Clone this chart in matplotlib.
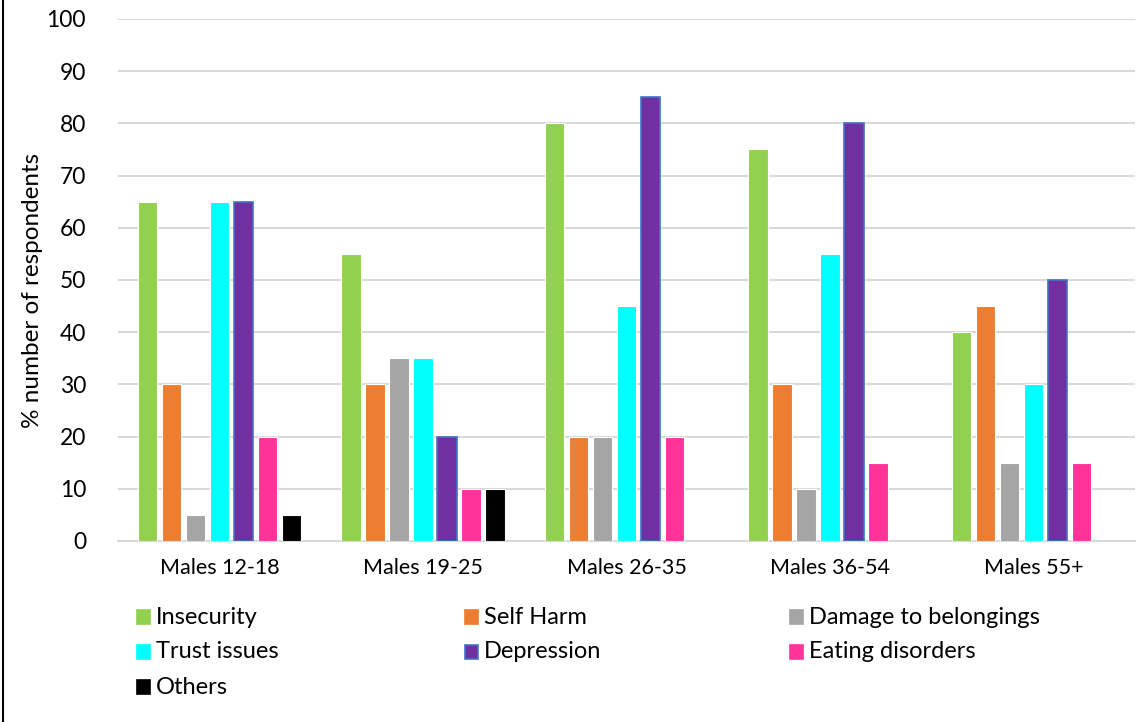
import matplotlib
matplotlib.use("Agg")
import matplotlib.pyplot as plt
import numpy as np
from matplotlib.patches import Rectangle
from matplotlib.lines import Line2D

plt.rcParams['font.family'] = ['Lato', 'DejaVu Sans']

groups = ['Males 12-18', 'Males 19-25', 'Males 26-35', 'Males 36-54', 'Males 55+']
insecurity = [65, 55, 80, 75, 40]
self_harm = [30, 30, 20, 30, 45]
damage = [5, 35, 20, 10, 15]
trust = [65, 35, 45, 55, 30]
depression = [65, 20, 85, 80, 50]
eating = [20, 10, 20, 15, 15]
others = [5, 10, 0, 0, 0]

series_names = ['Insecurity', 'Self Harm', 'Damage to belongings', 'Trust issues',
                'Depression', 'Eating disorders', 'Others']
series_values = [insecurity, self_harm, damage, trust, depression, eating, others]
colors = ['#92D050', '#ED7D31', '#A5A5A5', '#00FFFF', '#7030A0', '#FF3399', '#000000']
edges = ['white', 'white', 'white', 'white', '#4472C4', 'white', 'white']

fig = plt.figure(figsize=(11.39, 7.22), dpi=100)
ax = fig.add_axes([0.1036, 0.2507, 0.8930, 0.7230])

x = np.arange(len(groups))
pitch = 0.118
width = 0.096
for i, (vals, c, ec) in enumerate(zip(series_values, colors, edges)):
    offs = (i - 3) * pitch
    lw = 1.2 if ec != 'white' else 0.8
    ax.bar(x + offs, vals, width, color=c, edgecolor=ec, linewidth=lw, zorder=3)

ax.set_xlim(-0.5, 4.5)
ax.set_ylim(0, 100)
ax.set_yticks(range(0, 101, 10))
ax.yaxis.grid(True, color='#D9D9D9', linewidth=1.5, zorder=0)
ax.set_axisbelow(True)
ax.set_xticks(x)
ax.set_xticklabels(groups, fontsize=15.5)
ax.tick_params(axis='y', labelsize=16.5, length=0, pad=23)
ax.tick_params(axis='x', length=0, pad=12)
for s in ['top', 'right', 'left']:
    ax.spines[s].set_visible(False)
ax.spines['bottom'].set_color('#D9D9D9')
ax.spines['bottom'].set_linewidth(1.5)
ax.set_ylabel('% number of respondents', fontsize=17.5)
ax.yaxis.set_label_coords(-0.074, 0.48)

# legend drawn by hand so the three columns sit on a fixed grid
col_x = [137, 465, 790]
row_y = [617, 652, 687]
W, H = 1139.0, 722.0
for k, (name, c, ec) in enumerate(zip(series_names, colors, edges)):
    cx = col_x[k % 3]
    cy = row_y[k // 3]
    fig.patches.append(Rectangle((cx / W, 1 - (cy + 7) / H), 13 / W, 14 / H,
                                 facecolor=c, edgecolor=ec if ec != 'white' else c,
                                 linewidth=1.2, transform=fig.transFigure, figure=fig))
    fig.text((cx + 19) / W, 1 - cy / H, name, fontsize=17, va='center', ha='left')

# chart frame on the left edge
fig.add_artist(Line2D([3 / W, 3 / W], [0, 1], color='black', linewidth=1.5,
                      transform=fig.transFigure))

fig.savefig('out.png', dpi=100)
